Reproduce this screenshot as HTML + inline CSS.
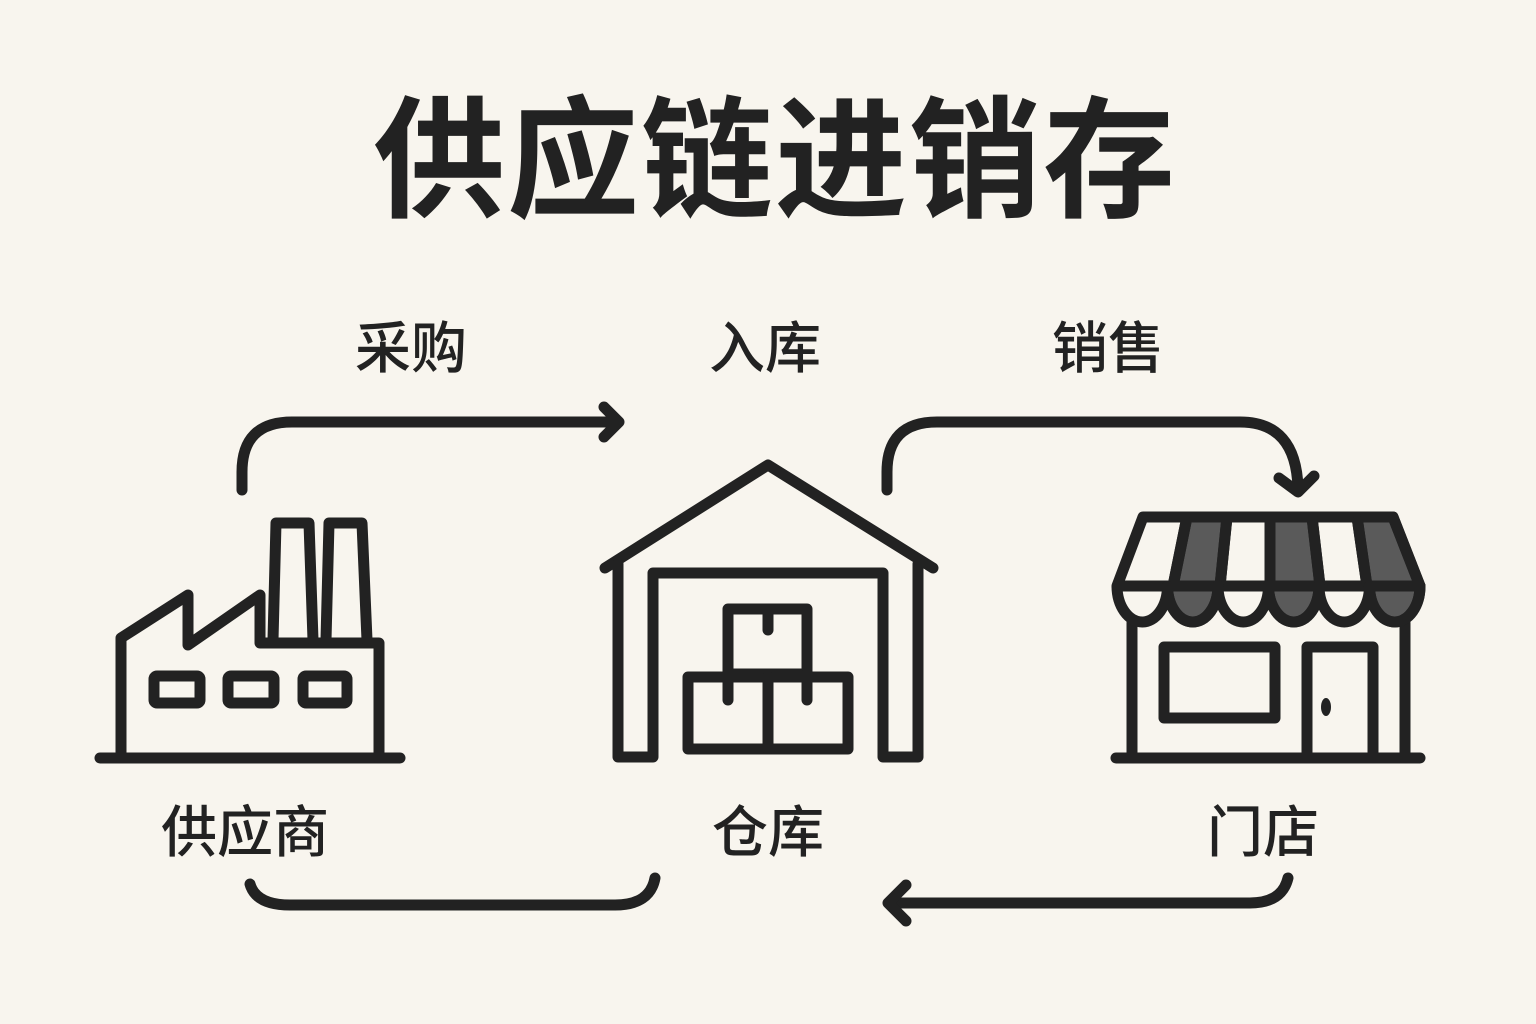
<!DOCTYPE html>
<html><head><meta charset="utf-8"><style>
html,body{margin:0;padding:0;background:#f8f5ee;}
body{width:1536px;height:1024px;overflow:hidden;position:relative;}
svg{position:absolute;left:0;top:0;}
text{font-family:"Liberation Sans","Noto Sans CJK SC",sans-serif;fill:#222;}
</style></head><body>
<svg width="1536" height="1024" viewBox="0 0 1536 1024">
<rect width="1536" height="1024" fill="#f8f5ee"/>
<text x="775" y="207" font-size="132" font-weight="bold" text-anchor="middle" letter-spacing="2">供应链进销存</text>
<g font-size="56" font-weight="500" text-anchor="middle">
<text x="411" y="368">采购</text>
<text x="765" y="368">入库</text>
<text x="1108" y="368">销售</text>
<text x="245" y="852">供应商</text>
<text x="768" y="852">仓库</text>
<text x="1263" y="852">门店</text>
</g>
<g fill="none" stroke="#222" stroke-width="11" stroke-linecap="round" stroke-linejoin="round">
<path d="M242 490 V472 Q242 422 292 422 H618"/>
<path d="M604 407 L619 422 L604 437"/>
<path d="M887 490 V472 Q887 422 937 422 H1240 Q1296 422 1298 488"/>
<path d="M1279 478 L1298 492 L1314 476"/>
<path d="M250 884 Q256 905 290 905 H615 Q650 905 655 878"/>
<path d="M1288 878 Q1282 903 1250 903 H890"/>
<path d="M906 885 L888 903 L906 921"/>
<path d="M100 758 H400"/>
<path d="M121 758 V638 L188 595 V645 L260 595 V643 H379 V758"/>
<path d="M273 640 L276 523 H309 L313 640"/>
<path d="M326 640 L329 523 H362 L367 640"/>
<rect x="154" y="676" width="46" height="27" rx="3"/>
<rect x="228" y="676" width="46" height="27" rx="3"/>
<rect x="303" y="676" width="44" height="27" rx="3"/>
<path d="M605 568 L768 465 L933 568"/>
<path d="M618 564 V757 H653 V573 H883 V757 H918 V564"/>
<rect x="728" y="609" width="79" height="65"/>
<path d="M768 609 V630"/>
<rect x="688" y="677" width="160" height="72"/>
<path d="M768 677 V749 M728 674 V700 M807 674 V700"/>
<path d="M1116 758 H1420"/>
<path d="M1132 623 V758 M1405 623 V758"/>
<rect x="1164" y="647" width="111" height="71"/>
<path d="M1307 758 V647 H1373 V758"/>
</g>
<g stroke="#222" stroke-width="11" stroke-linejoin="round">
<path d="M1187 517 L1173 586 H1220 L1227 517Z" fill="#5a5a5a"/>
<path d="M1270 517 V586 H1320 L1312 517Z" fill="#5a5a5a"/>
<path d="M1357 517 L1367 586 H1420 L1393 517Z" fill="#5a5a5a"/>
<path d="M1143 517 H1393 L1420 586 H1117 Z" fill="none"/>
<path d="M1187 517 L1173 586 M1227 517 L1220 586 M1270 517 V586 M1312 517 L1320 586 M1357 517 L1367 586" fill="none"/>
<path d="M1167.5 586 a25.25 36 0 0 0 50.5 0Z" fill="#5a5a5a"/>
<path d="M1268.5 586 a25.25 36 0 0 0 50.5 0Z" fill="#5a5a5a"/>
<path d="M1369.5 586 a25.25 36 0 0 0 50.5 0Z" fill="#5a5a5a"/>
<path d="M1117 586 a25.25 36 0 0 0 50.5 0 a25.25 36 0 0 0 50.5 0 a25.25 36 0 0 0 50.5 0 a25.25 36 0 0 0 50.5 0 a25.25 36 0 0 0 50.5 0 a25.25 36 0 0 0 50.5 0" fill="none"/>
</g>
<ellipse cx="1326" cy="707" rx="5" ry="9" fill="#222"/>
</svg>
</body></html>
